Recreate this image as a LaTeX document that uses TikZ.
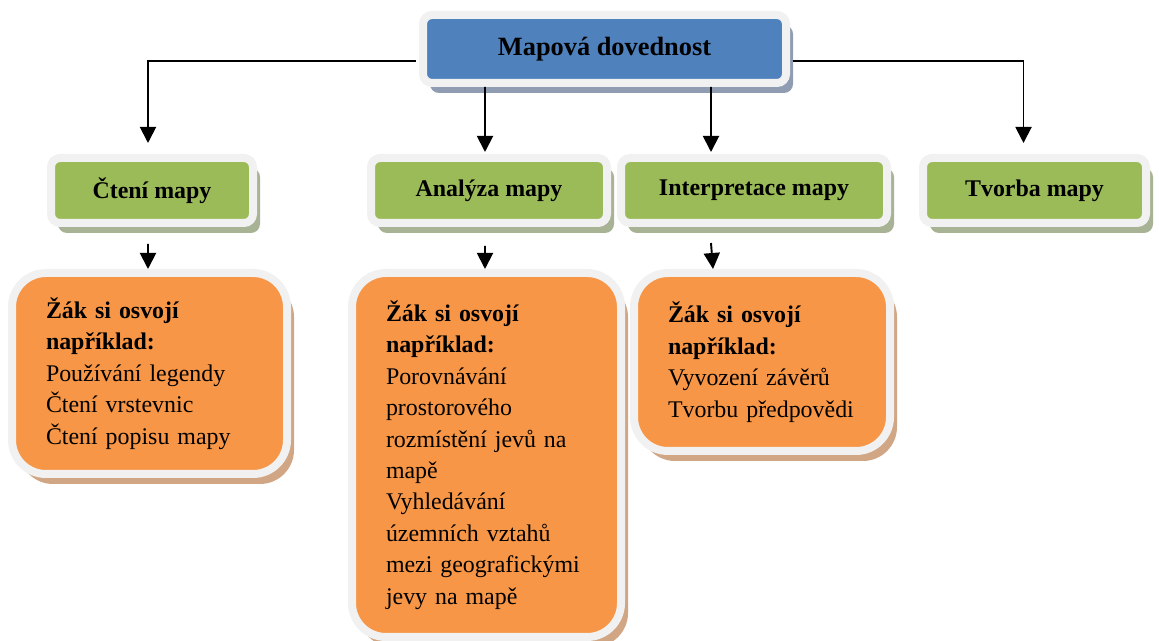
\documentclass[tikz,border=0pt]{standalone}
\usepackage{fontspec}
\setmainfont{Liberation Serif}
\usepackage{xcolor}
\definecolor{mapblue}{RGB}{79,129,189}
\definecolor{mapgreen}{RGB}{155,187,89}
\definecolor{maporange}{RGB}{247,150,70}
\definecolor{mapframe}{RGB}{241,241,241}
\definecolor{blueshade}{RGB}{143,156,178}
\definecolor{greenshade}{RGB}{168,178,148}
\definecolor{orangeshade}{RGB}{209,166,132}
\usetikzlibrary{arrows.meta,positioning,shadows}

\tikzset{
  framedbox/.style={draw=mapframe, line width=0.16cm, rounded corners=0.18cm, inner sep=0pt, align=center, text=black},
  headbox/.style={framedbox, fill=mapblue, minimum width=7.26cm, minimum height=1.36cm,
    font=\fontsize{15}{18}\selectfont\bfseries,
    drop shadow={shadow xshift=0.14cm, shadow yshift=-0.2cm, fill=blueshade, opacity=1}},
  skillbox/.style={framedbox, fill=mapgreen, minimum height=1.30cm,
    font=\fontsize{13.6}{16}\selectfont\bfseries,
    drop shadow={shadow xshift=0.14cm, shadow yshift=-0.2cm, fill=greenshade, opacity=1}},
  notebox/.style={framedbox, fill=maporange, rounded corners=0.68cm, align=left, inner xsep=0.68cm,
    font=\fontsize{13.6}{17.9}\selectfont,
    drop shadow={shadow xshift=0.14cm, shadow yshift=-0.2cm, fill=orangeshade, opacity=1}},
  link/.style={-{Triangle[length=0.32cm,width=0.32cm]}, line width=1.1pt, black}
}

\begin{document}
\begin{tikzpicture}
  \useasboundingbox (0,0) rectangle (23.18,12.82);

  \node[headbox] (top) at (12.09,11.84) {Mapová dovednost};

  \node[skillbox, minimum width=4.04cm] (cteni)    at (3.04,9.01)  {Čtení mapy};
  \node[skillbox, minimum width=4.72cm] (analyza)  at (9.78,9.01)  {Analýza mapy};
  \node[skillbox, minimum width=5.32cm] (interp)   at (15.08,9.01) {Interpretace mapy};
  \node[skillbox, minimum width=4.46cm] (tvorba)   at (20.69,9.01) {Tvorba mapy};

  \node[notebox, text width=4.14cm, minimum width=5.50cm, minimum height=4.02cm] (cteninote) at (2.99,5.35)
    {\textbf{Žák si osvojí}\\\textbf{například:}\\Používání legendy\\Čtení vrstevnic\\Čtení popisu mapy};
  \node[notebox, text width=4.02cm, minimum width=5.38cm, minimum height=7.28cm] (analyzanote) at (9.73,3.72)
    {\textbf{Žák si osvojí}\\\textbf{například:}\\Porovnávání\\prostorového\\rozmístění jevů na\\mapě\\Vyhledávání\\územních vztahů\\mezi geografickými\\jevy na mapě};
  \node[notebox, text width=3.76cm, minimum width=5.12cm, minimum height=3.56cm] (interpnote) at (15.24,5.58)
    {\textbf{Žák si osvojí}\\\textbf{například:}\\Vyvození závěrů\\Tvorbu předpovědi};

  \draw[link, shorten >=0.22cm] ([yshift=-0.24cm, xshift=-0.06cm]top.west) -| ([xshift=-0.08cm]cteni.north);
  \draw[link, shorten >=0.22cm] ([yshift=-0.24cm, xshift=0.06cm]top.east) -| ([xshift=-0.22cm]tvorba.north);
  \draw[link, shorten >=0.04cm] ([xshift=-2.39cm]top.south) -- ([xshift=-0.08cm]analyza.north);
  \draw[link, shorten >=0.04cm] ([xshift=2.13cm]top.south) -- ([xshift=-0.86cm]interp.north);

  \draw[link] ([xshift=-0.08cm, yshift=-0.34cm]cteni.south) -- ([xshift=-0.03cm]cteninote.north);
  \draw[link] ([xshift=-0.08cm, yshift=-0.38cm]analyza.south) -- ([xshift=-0.03cm]analyzanote.north);
  \draw[link] ([xshift=-0.86cm, yshift=-0.32cm]interp.south) -- ([xshift=-0.98cm]interpnote.north);
\end{tikzpicture}
\end{document}
